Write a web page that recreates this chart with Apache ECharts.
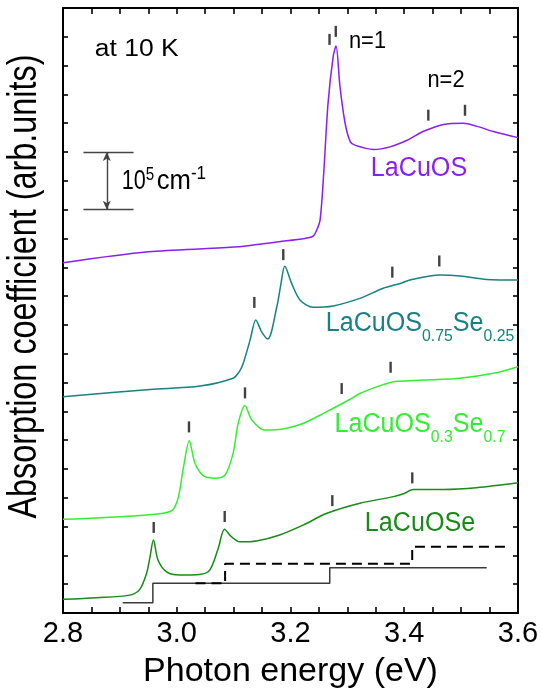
<!DOCTYPE html>
<html>
<head>
<meta charset="utf-8">
<title>Absorption spectra of LaCuOS(1-x)Se(x) at 10 K</title>
<script src="https://cdn.jsdelivr.net/npm/echarts@6/dist/echarts.min.js"></script>
<style>
  html, body { margin: 0; padding: 0; background: #ffffff; }
  #chart { width: 542px; height: 697px; }
</style>
</head>
<body>
<div id="chart"></div>
<script>
const FONT = '"Liberation Sans", Arial, Helvetica, sans-serif';

// ---- Spectra: photon energy (eV) and absorption (arb. units, vertically offset) ----
const lacuosEnergy = [2.80, 2.95, 3.10, 3.18, 3.225, 3.240, 3.246, 3.252, 3.258, 3.266, 3.275, 3.280, 3.287, 3.296, 3.305, 3.313, 3.346, 3.375, 3.404, 3.434, 3.469, 3.504, 3.527, 3.557, 3.600];
const lacuosAbs    = [12.16, 12.54, 12.70, 12.89, 13.00, 13.08, 13.29, 13.64, 15.14, 17.69, 19.31, 19.68, 18.27, 17.00, 16.36, 16.24, 16.09, 16.18, 16.40, 16.72, 16.96, 17.00, 16.90, 16.71, 16.50];

const s75Energy = [2.80, 2.953, 3.041, 3.099, 3.110, 3.117, 3.129, 3.139, 3.149, 3.160, 3.176, 3.183, 3.190, 3.202, 3.217, 3.240, 3.275, 3.322, 3.363, 3.393, 3.410, 3.463, 3.498, 3.545, 3.600];
const s75Abs    = [7.51, 7.76, 7.88, 8.15, 8.38, 8.67, 9.48, 10.17, 9.77, 9.51, 10.63, 11.40, 12.04, 11.44, 10.86, 10.61, 10.66, 10.92, 11.27, 11.44, 11.56, 11.73, 11.70, 11.58, 11.56];

const s30Energy = [2.80, 2.924, 2.976, 2.993, 3.003, 3.012, 3.022, 3.032, 3.047, 3.067, 3.085, 3.099, 3.108, 3.120, 3.132, 3.155, 3.187, 3.222, 3.258, 3.305, 3.322, 3.360, 3.381, 3.410, 3.439, 3.498, 3.557, 3.600];
const s30Abs    = [3.25, 3.37, 3.46, 3.58, 4.04, 5.08, 5.98, 5.20, 4.76, 4.68, 4.79, 5.54, 6.58, 7.20, 6.70, 6.35, 6.39, 6.58, 6.93, 7.42, 7.62, 7.91, 8.03, 8.06, 8.09, 8.15, 8.32, 8.55];

const seEnergy = [2.80, 2.859, 2.917, 2.935, 2.947, 2.953, 2.959, 2.967, 2.982, 3.005, 3.040, 3.058, 3.073, 3.084, 3.096, 3.111, 3.140, 3.181, 3.222, 3.264, 3.322, 3.381, 3.400, 3.416, 3.440, 3.469, 3.527, 3.600];
const seAbs    = [0.475, 0.53, 0.62, 0.82, 1.38, 1.95, 2.53, 1.84, 1.43, 1.32, 1.34, 1.49, 2.25, 2.91, 2.65, 2.47, 2.50, 2.71, 3.05, 3.46, 3.81, 4.04, 4.15, 4.29, 4.29, 4.29, 4.35, 4.52];

// ---- Exciton markers (short vertical bars above the n=1 / n=2 features) ----
const markerEnergy = [3.2686, 3.2796, 3.4423, 3.5068, 3.1364, 3.1873, 3.379, 3.4616, 3.0215, 3.120, 3.290, 3.376, 2.9595, 3.0843, 3.2735, 3.4141];
const markerLevel  = [19.91, 20.19, 17.28, 17.45, 10.78, 12.44, 11.83, 12.22, 6.46, 7.64, 7.79, 8.53, 2.97, 3.35, 3.90, 4.69];

// ---- Level diagrams for LaCuOSe (solid and dashed steps) ----
const solidStepEnergy  = [2.905, 2.958, 3.269, 3.545];
const solidStepLevel   = [0.36, 1.03, 1.57, 1.57];
const dashedStepEnergy = [3.033, 3.085, 3.414, 3.585];
const dashedStepLevel  = [1.03, 1.71, 2.30, 2.30];

// ---- Scale bar: 2 axis units = 1e5 cm^-1 ----
const scaleBarLevels = [14, 16];
const scaleBarSpan   = [2.836, 2.924];
const scaleBarArrowAt = 2.877;

// ---- Axis ticks ----
const energyTicks = [2.8, 3.0, 3.2, 3.4, 3.6];

const COLORS = {
  lacuos: '#8a1ef5',
  s75: '#168282',
  s30: '#33ee33',
  se: '#178a17'
};

const zip = (xs, ys) => xs.map((x, i) => [x, ys[i]]);

function curve(name, xs, ys, color) {
  return {
    name, type: 'line', data: zip(xs, ys),
    showSymbol: false, symbol: 'none',
    smooth: 0.3,
    lineStyle: { color, width: 1.5 },
    itemStyle: { color },
    silent: true, z: 3
  };
}

function txt(text, x, y, fontSize, color, sx, extra) {
  return {
    type: 'text', x, y, scaleX: sx || 1, silent: true, z: 100,
    style: Object.assign({
      text, fill: color,
      font: fontSize + 'px ' + FONT,
      fontSize, fontFamily: FONT,
      align: 'center', verticalAlign: 'middle',
      textAlign: 'center', textVerticalAlign: 'middle'
    }, extra || {})
  };
}

function subRich(color, main, sub) {
  return {
    m: { fill: color, fontSize: main, fontFamily: FONT, lineHeight: 30 },
    s: { fill: color, fontSize: sub, fontFamily: FONT, lineHeight: 6, height: 6, verticalAlign: 'bottom' },
    u: { fill: color, fontSize: sub, fontFamily: FONT, lineHeight: 16, height: 16, verticalAlign: 'top' }
  };
}

const chart = echarts.init(document.getElementById('chart'), null, { renderer: 'canvas' });

const axisCommon = {
  axisLine: { show: true, onZero: false, lineStyle: { color: '#000', width: 2 } },
  splitLine: { show: false }
};

const option = {
  animation: false,
  backgroundColor: '#ffffff',
  grid: { left: 63, right: 24, top: 8, bottom: 84, containLabel: false, outerBoundsMode: 'none' },
  xAxis: [
    Object.assign({}, axisCommon, {
      type: 'value', position: 'bottom', min: energyTicks[0], max: energyTicks[energyTicks.length - 1], interval: 0.2,
      axisTick: { show: true, inside: true, length: 6, lineStyle: { color: '#000', width: 1.6 } },
      minorTick: { show: true, splitNumber: 4, length: 6, lineStyle: { color: '#000', width: 1.6 } },
      axisLabel: {
        show: true, margin: 6, color: '#000', fontSize: 29, fontFamily: FONT,
        formatter: v => v.toFixed(1)
      },
      name: 'Photon energy (eV)', nameLocation: 'middle', nameGap: 42,
      nameTextStyle: { color: '#000', fontSize: 34, fontFamily: FONT }
    }),
    Object.assign({}, axisCommon, {
      type: 'value', position: 'top', min: energyTicks[0], max: energyTicks[energyTicks.length - 1], interval: 0.2,
      axisTick: { show: true, inside: true, length: 6, lineStyle: { color: '#000', width: 1.6 } },
      minorTick: { show: true, splitNumber: 4, length: 6, lineStyle: { color: '#000', width: 1.6 } },
      axisLabel: { show: false }
    })
  ],
  yAxis: [
    Object.assign({}, axisCommon, {
      type: 'value', position: 'left', min: 0, max: 21, interval: 1,
      axisTick: { show: true, inside: true, length: 5, lineStyle: { color: '#000', width: 1.6 } },
      axisLabel: { show: false }
    }),
    Object.assign({}, axisCommon, {
      type: 'value', position: 'right', min: 0, max: 21, interval: 1,
      axisTick: { show: true, inside: true, length: 5, lineStyle: { color: '#000', width: 1.6 } },
      axisLabel: { show: false }
    })
  ],
  series: [
    curve('LaCuOS', lacuosEnergy, lacuosAbs, COLORS.lacuos),
    curve('LaCuOS0.75Se0.25', s75Energy, s75Abs, COLORS.s75),
    curve('LaCuOS0.3Se0.7', s30Energy, s30Abs, COLORS.s30),
    curve('LaCuOSe', seEnergy, seAbs, COLORS.se),
    {
      name: 'levels', type: 'line', step: 'end', data: zip(solidStepEnergy, solidStepLevel),
      symbol: 'none', showSymbol: false, silent: true, z: 2,
      lineStyle: { color: '#3a3a3a', width: 1.5 }
    },
    {
      name: 'levels-dashed', type: 'line', step: 'end', data: zip(dashedStepEnergy, dashedStepLevel),
      symbol: 'none', showSymbol: false, silent: true, z: 2,
      lineStyle: { color: '#000', width: 2, type: [10, 6] }
    },
    {
      name: 'markers', type: 'scatter', data: zip(markerEnergy, markerLevel),
      symbol: 'rect', symbolSize: [2.4, 11], silent: true, z: 4,
      itemStyle: { color: '#111' },
      markLine: {
        silent: true, animation: false,
        label: { show: false },
        lineStyle: { color: '#444', width: 1.4, type: 'solid' },
        symbolSize: [6, 9],
        data: [
          [{ coord: [scaleBarSpan[0], scaleBarLevels[1]], symbol: 'none' }, { coord: [scaleBarSpan[1], scaleBarLevels[1]], symbol: 'none' }],
          [{ coord: [scaleBarSpan[0], scaleBarLevels[0]], symbol: 'none' }, { coord: [scaleBarSpan[1], scaleBarLevels[0]], symbol: 'none' }],
          [{ coord: [scaleBarArrowAt, scaleBarLevels[0]], symbol: 'arrow' }, { coord: [scaleBarArrowAt, scaleBarLevels[1]], symbol: 'arrow' }]
        ]
      }
    }
  ],
  graphic: [
    // y-axis title
    {
      type: 'text', x: 25, y: 286.5, rotation: Math.PI / 2, scaleX: 0.81, silent: true, z: 100,
      style: {
        text: 'Absorption coefficient (arb.units)', fill: '#000',
        font: '40px ' + FONT, fontSize: 40, fontFamily: FONT,
        align: 'center', verticalAlign: 'middle', textAlign: 'center', textVerticalAlign: 'middle'
      }
    },
    txt('at 10 K', 136.7, 50, 23, '#000', 1.15),
    txt('n=1', 367.5, 41.5, 23, '#000', 0.95),
    txt('n=2', 446, 81, 23, '#000', 0.95),
    txt('{m|10}{u|5}', 138, 181.5, 27, '#000', 0.8, { rich: subRich('#000', 27, 19) }),
    txt('{m|cm}{u|-1}', 181.4, 181.5, 27, '#000', 0.95, { rich: subRich('#000', 27, 18) }),
    txt('LaCuOS', 419, 168.3, 27, COLORS.lacuos, 0.93),
    txt('{m|LaCuOS}{s|0.75}{m|Se}{s|0.25}', 420, 324, 27, COLORS.s75, 0.93, { rich: subRich(COLORS.s75, 27, 17) }),
    txt('{m|LaCuOS}{s|0.3}{m|Se}{s|0.7}', 420, 425, 27, COLORS.s30, 0.93, { rich: subRich(COLORS.s30, 27, 17) }),
    txt('LaCuOSe', 420, 524, 27, COLORS.se, 0.93)
  ]
};

chart.setOption(option);
</script>
</body>
</html>
